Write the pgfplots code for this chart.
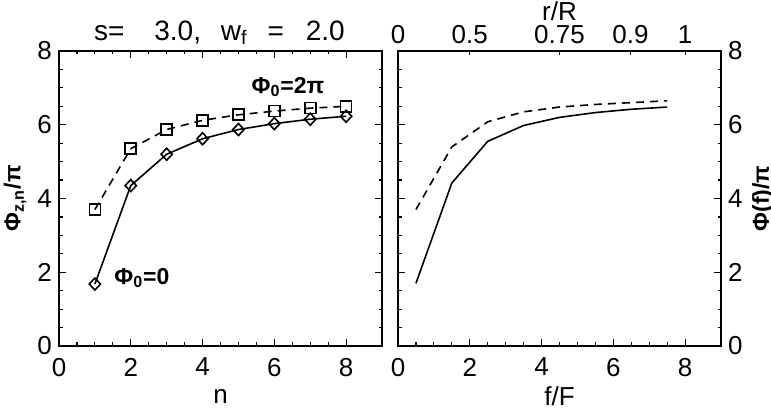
\documentclass[border=0pt]{standalone}
\usepackage{fontspec}
\setmainfont{Liberation Sans}
\usepackage{pgfplots}
\pgfplotsset{compat=1.18}

% phase values, left panel against n, right panel against f/F
\pgfplotstableread{
n    zero  twopi
1    1.68  3.70
2    4.35  5.35
3    5.20  5.87
4    5.62  6.12
5    5.87  6.27
6    6.03  6.37
7    6.15  6.45
8    6.23  6.50
}\phin
\pgfplotstableread{
f    zero  twopi
0.5  1.70  3.70
1.5  4.42  5.40
2.5  5.55  6.08
3.5  5.98  6.35
4.5  6.20  6.48
5.5  6.33  6.55
6.5  6.42  6.60
7.5  6.48  6.65
}\phif

\newcommand{\lbl}{\fontsize{13}{15}\selectfont}
\newcommand{\phil}{\fontsize{11.5}{13}\selectfont}

\pgfplotsset{
  panel/.style={
    scale only axis, width=161.5pt, height=147.5pt,
    xmin=0, xmax=9, ymin=0, ymax=8,
    xtick={0,2,...,8}, ytick={0,2,...,8},
    minor tick num=3,
    tick align=inside,
    major tick length=3.5pt, minor tick length=1.75pt,
    axis line style={line width=0.9pt},
    every tick/.style={black, line width=0.6pt},
    tick label style={font=\lbl},
    xticklabel style={yshift=-2.5pt},
    label style={font=\lbl},
    /pgf/number format/assume math mode=true,
    xlabel style={at={(axis description cs:0.5,-0.17)}, anchor=center},
  },
  solidline/.style={black, line width=0.8pt},
  dashline/.style={black, line width=0.8pt, dash pattern=on 4pt off 3pt},
}

\begin{document}
\begin{tikzpicture}
\begin{axis}[panel, at={(0pt,0pt)}, anchor=south west,
  xlabel={n},
  ylabel={Φ\textsubscript{z,n}/π},
  ylabel style={font=\phil\bfseries, at={(axis description cs:-0.136,0.5)}, anchor=center},
  clip=false]
\addplot[solidline, mark=diamond, mark size=3pt,
  mark options={solid, fill=white, xscale=1.25}] table[x=n, y=zero] {\phin};
\addplot[dashline, mark=square, mark size=2.75pt,
  mark options={solid, fill=white}] table[x=n, y=twopi] {\phin};
\node[font=\phil\bfseries] at (axis cs:6.38,7.02) {Φ\textsubscript{0}=2π};
\node[font=\phil\bfseries] at (axis cs:2.31,1.84) {Φ\textsubscript{0}=0};
\node[font=\fontsize{14}{16}\selectfont] at (axis cs:4.47,8.49) {s=\hspace{15pt}3.0,\hspace{6pt} w\textsubscript{f}\hspace{10pt}=\hspace{11pt}2.0};
\end{axis}

\begin{axis}[panel, at={(169.5pt,0pt)}, anchor=south west,
  xtick pos=bottom, yticklabel pos=right,
  xlabel={f/F},
  ylabel={Φ(f)/π},
  ylabel style={font=\phil\bfseries, at={(axis description cs:1.13,0.5)}, anchor=center}]
\addplot[solidline] table[x=f, y=zero] {\phif};
\addplot[dashline] table[x=f, y=twopi] {\phif};
\end{axis}

\begin{axis}[scale only axis, width=161.5pt, height=147.5pt,
  at={(169.5pt,0pt)}, anchor=south west,
  xmin=0, xmax=9, ymin=0, ymax=8,
  axis x line*=top, axis y line=none,
  axis line style={line width=0.9pt, -},
  xtick={0,2,4.5,6.48,8},
  xticklabels={0,0.5,0.75,0.9,1},
  minor tick num=0, tick align=inside, major tick length=2pt,
  every tick/.style={black, line width=0.6pt},
  tick label style={font=\lbl},
  xticklabel style={yshift=0pt},
  xlabel={r/R}, label style={font=\lbl},
  xlabel style={at={(axis description cs:0.5,1.135)}, anchor=center}]
\addplot[draw=none] coordinates {(0,0) (9,8)};
\end{axis}

\pgfresetboundingbox
\path (-29.5pt,173pt) rectangle (356pt,-32.5pt);
\end{tikzpicture}
\end{document}
